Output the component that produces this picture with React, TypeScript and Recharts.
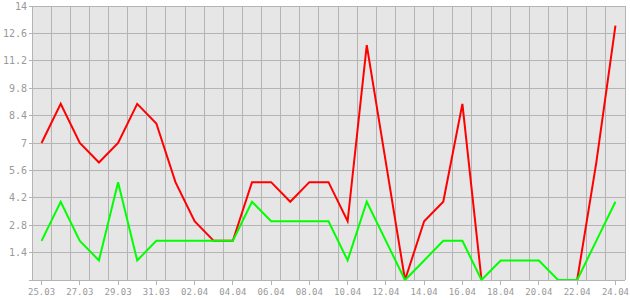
import React from "react";
import { LineChart, Line, XAxis, YAxis, CartesianGrid } from "recharts";

const dates = [
  "25.03", "26.03", "27.03", "28.03", "29.03", "30.03", "31.03",
  "01.04", "02.04", "03.04", "04.04", "05.04", "06.04", "07.04", "08.04",
  "09.04", "10.04", "11.04", "12.04", "13.04", "14.04", "15.04", "16.04",
  "17.04", "18.04", "19.04", "20.04", "21.04", "22.04", "23.04", "24.04",
];

const redSeries: (number | null)[] = [
  7, 9, 7, 6, 7, 9, 8, 5, 3, 2, 2, 5, 5, 4, 5, 5, 3, 12, 6, 0, 3, 4, 9, 0,
  null, null, null, null, 0, 6, 13,
];

const greenSeries: number[] = [
  2, 4, 2, 1, 5, 1, 2, 2, 2, 2, 2, 4, 3, 3, 3, 3, 1, 4, 2, 0, 1, 2, 2, 0,
  1, 1, 1, 0, 0, 2, 4,
];

const yTicks = [0, 1.4, 2.8, 4.2, 5.6, 7, 8.4, 9.8, 11.2, 12.6, 14];
const yTickLabels = ["", "1.4", "2.8", "4.2", "5.6", "7", "8.4", "9.8", "11.2", "12.6", "14"];
const xTicks = [0, 2, 4, 6, 8, 10, 12, 14, 16, 18, 20, 22, 24, 26, 28, 30];

const data = dates.map((d, i) => ({ idx: i, date: d, red: redSeries[i], green: greenSeries[i] }));

const tickStyle = { fill: "#999999", fontSize: 10, fontFamily: "'DejaVu Sans Mono', monospace" };

export default function App() {
  const n = dates.length;
  return (
    <div style={{ position: "absolute", left: 0, top: 0, width: 630, height: 300, background: "#ffffff" }}>
      <style>{`.recharts-cartesian-grid line, .recharts-cartesian-axis-line, .recharts-cartesian-axis-tick-line { shape-rendering: crispEdges; }`}</style>
      <LineChart width={630} height={300} data={data} margin={{ top: 6, right: 5, left: 0, bottom: 0 }}>
        <CartesianGrid
          fill="#e6e6e6"
          stroke="#b4b4b4"
          strokeWidth={1}
          verticalCoordinatesGenerator={({ offset }: any) => {
            const arr: number[] = [];
            for (let k = 0; k <= n; k++) arr.push(offset.left + (offset.width * k) / n);
            return arr;
          }}
        />
        <XAxis
          dataKey="idx"
          type="number"
          domain={[-0.5, n - 0.5]}
          ticks={xTicks}
          interval={0}
          tickFormatter={(v: number) => dates[v] ?? ""}
          height={20}
          tickSize={5}
          tickMargin={4}
          stroke="#b4b4b4"
          tick={{ ...tickStyle, fontSize: 9 }}
          allowDecimals
        />
        <YAxis
          type="number"
          domain={[0, 14]}
          ticks={yTicks}
          interval={0}
          tickFormatter={(v: number) => yTickLabels[yTicks.indexOf(v)] ?? ""}
          width={32}
          tickSize={3}
          tickMargin={2}
          stroke="#b4b4b4"
          tick={tickStyle}
        />
        <Line
          type="linear"
          dataKey="red"
          stroke="#ff0000"
          strokeWidth={2}
          dot={false}
          activeDot={false}
          connectNulls={false}
          isAnimationActive={false}
        />
        <Line
          type="linear"
          dataKey="green"
          stroke="#00ff00"
          strokeWidth={2}
          dot={false}
          activeDot={false}
          isAnimationActive={false}
        />
      </LineChart>
    </div>
  );
}
